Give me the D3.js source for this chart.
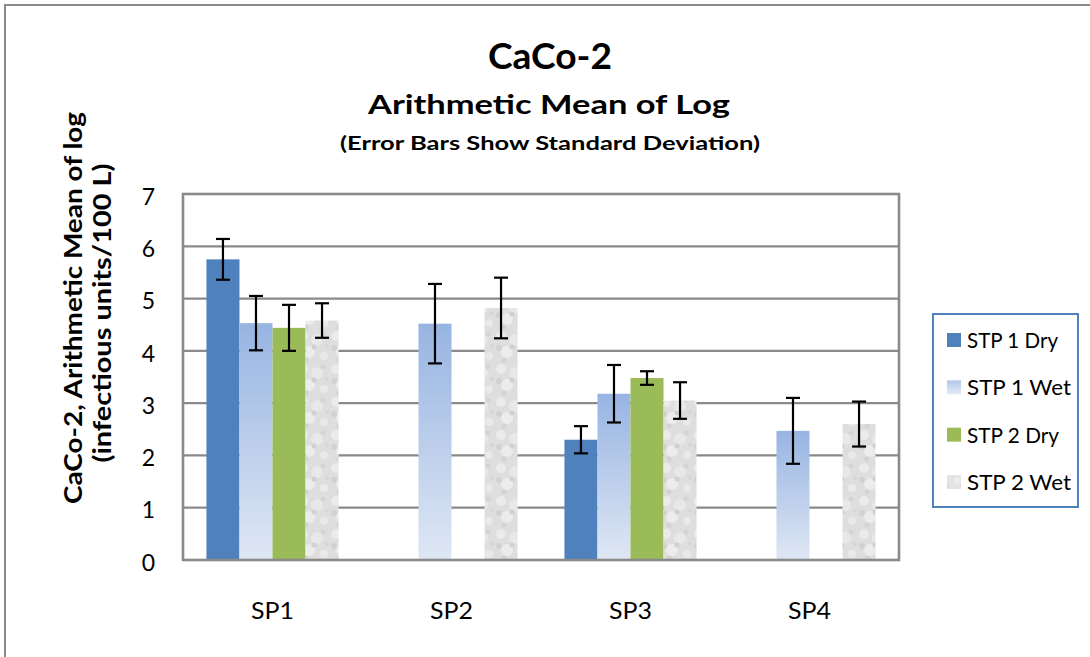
<!DOCTYPE html>
<html><head><meta charset="utf-8">
<script src="https://cdn.jsdelivr.net/npm/d3@7"></script>
<style>
html,body{margin:0;padding:0;background:#fff;}
svg{display:block;font-family:Lato,"Open Sans",sans-serif;}
</style></head>
<body><svg id="c" width="1090" height="657"></svg>
<script>
const categories = ["SP1","SP2","SP3","SP4"];
const seriesNames = ["STP 1 Dry","STP 1 Wet","STP 2 Dry","STP 2 Wet"];
const stp1Dry = [5.75, null, 2.30, null];
const stp1Wet = [4.53, 4.52, 3.18, 2.47];
const stp2Dry = [4.44, null, 3.48, null];
const stp2Wet = [4.58, 4.82, 3.05, 2.60];
const sd1Dry = [0.39, null, 0.26, null];
const sd1Wet = [0.52, 0.76, 0.55, 0.63];
const sd2Dry = [0.44, null, 0.13, null];
const sd2Wet = [0.33, 0.58, 0.35, 0.43];
const yTicks = [0,1,2,3,4,5,6,7];

const values = [stp1Dry, stp1Wet, stp2Dry, stp2Wet];
const sds = [sd1Dry, sd1Wet, sd2Dry, sd2Wet];

const svg = d3.select("#c");
const defs = svg.append("defs");

const g1 = defs.append("linearGradient").attr("id","gWet1").attr("x1",0).attr("y1",0).attr("x2",0).attr("y2",1);
g1.append("stop").attr("offset","0%").attr("stop-color","#97b4e2");
g1.append("stop").attr("offset","100%").attr("stop-color","#dfe7f4");
const g1l = defs.append("linearGradient").attr("id","gWet1L").attr("x1",0).attr("y1",0).attr("x2",0).attr("y2",1);
g1l.append("stop").attr("offset","0%").attr("stop-color","#b2c7ea");
g1l.append("stop").attr("offset","100%").attr("stop-color","#e4ebf6");

const pat = defs.append("pattern").attr("id","tex").attr("patternUnits","userSpaceOnUse")
  .attr("width",33).attr("height",33);
pat.append("rect").attr("width",33).attr("height",33).attr("fill","#dedede");
const blobs = [[6,6,5,"#ebebeb"],[20,10,6,"#e8e8e8"],[12,22,6,"#ececec"],[27,26,4,"#e9e9e9"],
  [4,18,3,"#d2d2d2"],[17,17,2.5,"#d0d0d0"],[26,4,2.5,"#d4d4d4"],[9,30,2.5,"#d3d3d3"],[30,16,2,"#d6d6d6"]];
blobs.forEach(b=>pat.append("circle").attr("cx",b[0]).attr("cy",b[1]).attr("r",b[2]).attr("fill",b[3]));
const texSw = defs.append("pattern").attr("id","texS").attr("patternUnits","userSpaceOnUse")
  .attr("width",14).attr("height",14);
texSw.append("rect").attr("width",14).attr("height",14).attr("fill","#e4e4e4");
texSw.append("circle").attr("cx",5).attr("cy",5).attr("r",3).attr("fill","#eeeeee");
texSw.append("circle").attr("cx",10).attr("cy",10).attr("r",2).attr("fill","#dadada");

const fills = ["#4f81bd","url(#gWet1)","#9bbb59","url(#tex)"];
const swatchFills = ["#4f81bd","url(#gWet1L)","#9bbb59","url(#texS)"];

svg.append("rect").attr("x",5).attr("y",5).attr("width",1200).attr("height",800)
  .attr("fill","none").attr("stroke","#8a8a8a").attr("stroke-width",2);

const L=183, R=899, T=194, B=560;
const x0 = d3.scaleBand().domain(categories).range([L,R]).paddingInner(0).paddingOuter(0);
const bw = x0.bandwidth();
const x1 = d3.scaleBand().domain(seriesNames).range([bw*0.131, bw*0.869]).padding(0);
const y = d3.scaleLinear().domain([0,7]).range([B,T]);

svg.append("g").selectAll("line").data(yTicks).join("line")
  .attr("x1",L).attr("x2",R).attr("y1",d=>y(d)).attr("y2",d=>y(d))
  .attr("stroke","#8a8a8a").attr("stroke-width",2.2);

const flat = [];
values.forEach((arr,si)=>arr.forEach((v,ci)=>{ if(v!=null) flat.push({si,ci,v,sd:sds[si][ci]}); }));

svg.append("g").selectAll("rect").data(flat).join("rect")
  .attr("x",d=>x0(categories[d.ci])+x1(seriesNames[d.si]))
  .attr("y",d=>y(d.v))
  .attr("width",x1.bandwidth())
  .attr("height",d=>y(0)-y(d.v))
  .attr("fill",d=>fills[d.si]);

svg.append("rect").attr("x",L).attr("y",T).attr("width",R-L).attr("height",B-T)
  .attr("fill","none").attr("stroke","#8a8a8a").attr("stroke-width",2.6);

const eb = svg.append("g").attr("stroke","#000").attr("stroke-width",2.2);
flat.forEach(d=>{
  const cx = x0(categories[d.ci])+x1(seriesNames[d.si])+x1.bandwidth()/2;
  const yt = y(d.v+d.sd), yb = y(d.v-d.sd);
  eb.append("line").attr("x1",cx).attr("x2",cx).attr("y1",yt).attr("y2",yb);
  eb.append("line").attr("x1",cx-7).attr("x2",cx+7).attr("y1",yt).attr("y2",yt);
  eb.append("line").attr("x1",cx-7).attr("x2",cx+7).attr("y1",yb).attr("y2",yb);
});

const yAxis = d3.axisLeft(y).tickValues(yTicks).tickSize(0).tickPadding(0).tickFormat(d3.format("d"));
const ya = svg.append("g").attr("transform",`translate(155,2)`).call(yAxis);
ya.select(".domain").remove();
ya.selectAll("text").attr("font-size",23).attr("font-family","Lato, sans-serif").attr("fill","#000").attr("dy","0.36em");

const xAxis = d3.axisBottom(x0).tickSize(0).tickPadding(0);
const xa = svg.append("g").attr("transform",`translate(0,611)`).call(xAxis);
xa.select(".domain").remove();
xa.selectAll("text").attr("font-size",23).attr("font-family","Lato, sans-serif").attr("fill","#000")
  .attr("dy","0.36em").attr("textLength",43).attr("lengthAdjust","spacingAndGlyphs");

function txt(s, x, yy, size, weight, len){
  const t = svg.append("text").attr("x",x).attr("y",yy).attr("text-anchor","middle")
    .attr("font-size",size).attr("font-weight",weight).attr("fill","#000").text(s);
  if(len) t.attr("textLength",len).attr("lengthAdjust","spacingAndGlyphs");
  return t;
}
txt("CaCo-2", 550, 69, 36, "bold", 124);
txt("Arithmetic Mean of Log", 549, 114, 27, "bold", 362);
txt("(Error Bars Show Standard Deviation)", 550, 150, 19, "bold", 420);

const ytg = svg.append("g");
ytg.append("text").attr("transform","translate(82,308) rotate(-90)").attr("text-anchor","middle")
  .attr("font-size",24).attr("font-weight","bold").attr("fill","#000")
  .attr("textLength",392).attr("lengthAdjust","spacingAndGlyphs").text("CaCo-2, Arithmetic Mean of log");
ytg.append("text").attr("transform","translate(111,313) rotate(-90)").attr("text-anchor","middle")
  .attr("font-size",24).attr("font-weight","bold").attr("fill","#000")
  .attr("textLength",299).attr("lengthAdjust","spacingAndGlyphs").text("(infectious units/100 L)");

const lg = svg.append("g");
lg.append("rect").attr("x",933).attr("y",314).attr("width",145).attr("height",193)
  .attr("fill","#fff").attr("stroke","#4f81bd").attr("stroke-width",2);
const rowY = d3.scalePoint().domain(seriesNames).range([340,482]);
const legLen = [91,104,92,104];
seriesNames.forEach((s,i)=>{
  lg.append("rect").attr("x",947).attr("y",rowY(s)-7).attr("width",14).attr("height",14).attr("fill",swatchFills[i]);
  lg.append("text").attr("x",967).attr("y",rowY(s)).attr("dy","0.36em").attr("font-size",22)
    .attr("fill","#000").attr("textLength",legLen[i]).attr("lengthAdjust","spacingAndGlyphs").text(s);
});
</script>
</body></html>
